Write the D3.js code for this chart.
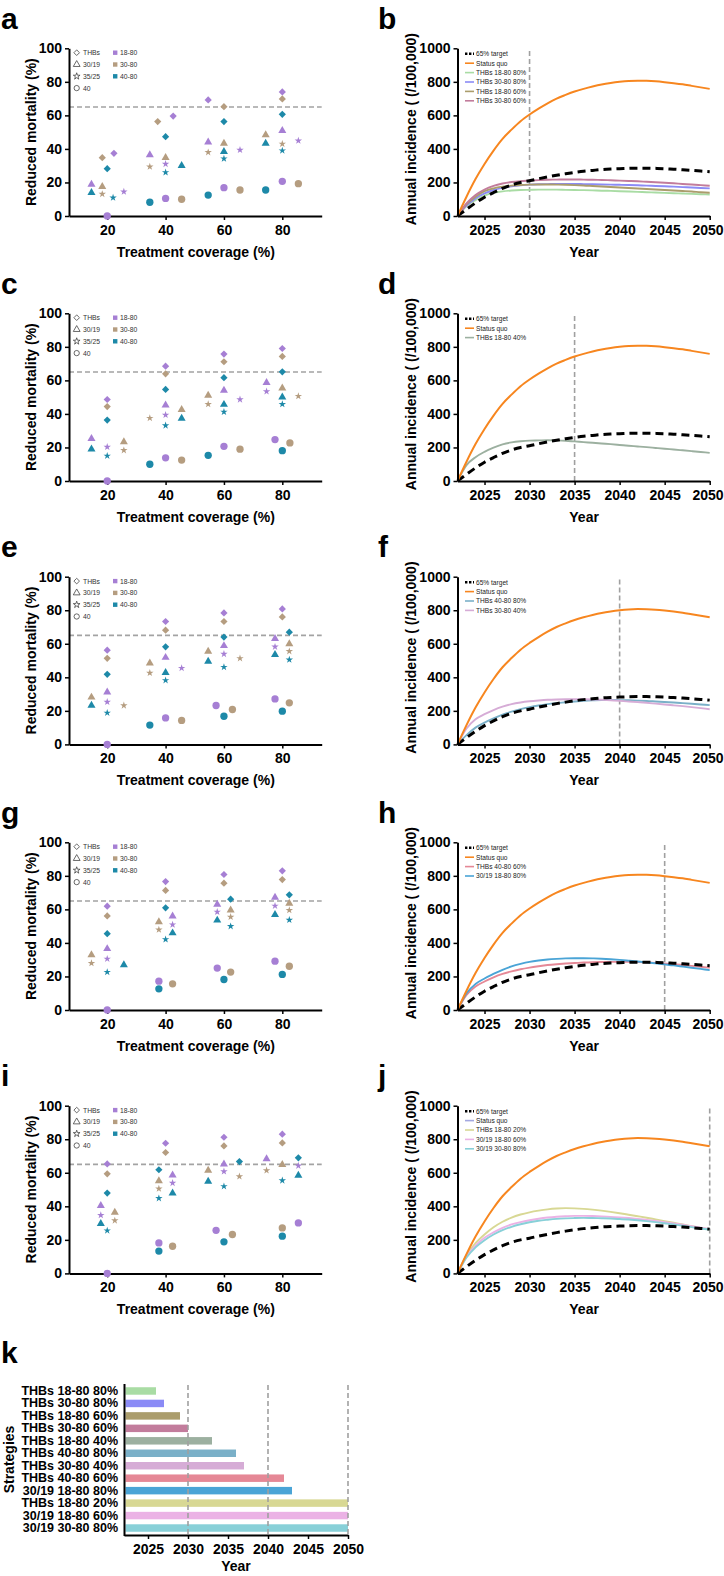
<!DOCTYPE html>
<html><head><meta charset="utf-8">
<script src="https://cdn.jsdelivr.net/npm/d3@7"></script>
<style>body{margin:0;background:#fff} svg{display:block}</style>
</head><body><svg id="c" width="724" height="1576"></svg>
<script>
// ---------------- DATA ----------------
const coverageTicks = [20, 40, 60, 80];
const mortalityTicks = [0, 20, 40, 60, 80, 100];
const incidenceTicks = [0, 200, 400, 600, 800, 1000];
const yearTicks = [2025, 2030, 2035, 2040, 2045, 2050];
const targetReduction = 65;

const shapes = ["THBs", "30/19", "35/25", "40"];
const ageGroups = ["18-80", "30-80", "40-80"];

// [screening strategy, age group, treatment coverage (display position), reduced mortality %]
const scatterA = [
  ["THBs","18-80",22.3,37.4],["THBs","30-80",18.3,34.8],["THBs","40-80",20,28.2],
  ["THBs","30-80",37.3,56.3],["THBs","18-80",42.6,59.6],["THBs","40-80",40,47.3],
  ["THBs","18-80",54.6,69.2],["THBs","30-80",60,65.2],["THBs","40-80",60,56.3],
  ["THBs","18-80",80,74],["THBs","30-80",80,69.8],["THBs","40-80",80,60.6],
  ["30/19","18-80",14.6,18.9],["30/19","40-80",14.6,13.9],["30/19","30-80",18.3,17.5],
  ["30/19","18-80",34.6,36.4],["30/19","30-80",40,34.8],["30/19","40-80",45.5,30],
  ["30/19","18-80",54.6,44],["30/19","30-80",60,43.3],["30/19","40-80",60,38.4],
  ["30/19","30-80",74.3,48.3],["30/19","40-80",74.3,43.3],["30/19","18-80",80,50.9],
  ["35/25","30-80",18.3,13.1],["35/25","40-80",22,10.9],["35/25","18-80",25.7,14.5],
  ["35/25","30-80",34.6,29.4],["35/25","18-80",40,31],["35/25","40-80",40,26],
  ["35/25","30-80",54.6,38],["35/25","40-80",60,34.2],["35/25","18-80",65.5,39.4],
  ["35/25","30-80",80,43],["35/25","40-80",80,39],["35/25","18-80",85.5,44.9],
  ["40","18-80",20,0],["40","40-80",34.6,8.2],["40","18-80",40,10.5],["40","30-80",45.5,10],
  ["40","40-80",54.6,12.5],["40","18-80",60,16.9],["40","30-80",65.5,15.5],
  ["40","40-80",74.3,15.5],["40","18-80",80,20.7],["40","30-80",85.5,19.3]
];
const scatterC = [
  ["THBs","18-80",20,48.6],["THBs","30-80",20,44.4],["THBs","40-80",20,36.3],
  ["THBs","18-80",40,68.5],["THBs","30-80",40,63.9],["THBs","40-80",40,54.6],
  ["THBs","18-80",60,75.7],["THBs","30-80",60,71.1],["THBs","40-80",60,61.6],
  ["THBs","18-80",80,79],["THBs","30-80",80,74.3],["THBs","40-80",80,65.1],
  ["30/19","18-80",14.6,25.3],["30/19","40-80",14.6,19],["30/19","30-80",25.7,23.3],
  ["30/19","18-80",40,45.2],["30/19","30-80",45.5,42.6],["30/19","40-80",45.5,37.3],
  ["30/19","30-80",54.6,51],["30/19","18-80",60,54],["30/19","40-80",60,45.6],
  ["30/19","18-80",74.6,58.6],["30/19","30-80",80,55.4],["30/19","40-80",80,50],
  ["35/25","18-80",20,20.3],["35/25","40-80",20,15],["35/25","30-80",25.7,18.3],
  ["35/25","30-80",34.6,37.5],["35/25","18-80",40,39.4],["35/25","40-80",40,33.1],
  ["35/25","30-80",54.6,45.8],["35/25","40-80",60,41.2],["35/25","18-80",65.5,48.6],
  ["35/25","18-80",74.6,53.4],["35/25","40-80",80,45.8],["35/25","30-80",85.5,50.6],
  ["40","18-80",20,0],["40","40-80",34.6,10],["40","18-80",40,13.8],["40","30-80",45.5,12.5],
  ["40","40-80",54.6,15.3],["40","18-80",60,20.7],["40","30-80",65.5,19],
  ["40","18-80",77.5,24.7],["40","40-80",80,18.1],["40","30-80",82.6,22.7]
];
const scatterE = [
  ["THBs","18-80",20,56.2],["THBs","30-80",20,51.3],["THBs","40-80",20,41.8],
  ["THBs","18-80",40,73.3],["THBs","30-80",40,68.1],["THBs","40-80",40,58.2],
  ["THBs","18-80",60,78.4],["THBs","30-80",60,73.3],["THBs","40-80",60,64],
  ["THBs","18-80",80,80.8],["THBs","30-80",80,76],["THBs","40-80",82.4,66.9],
  ["30/19","30-80",14.6,28.1],["30/19","40-80",14.6,23.2],["30/19","18-80",20,31.2],
  ["30/19","30-80",34.6,48.5],["30/19","18-80",40,51.8],["30/19","40-80",40,42.8],
  ["30/19","30-80",54.6,55.4],["30/19","40-80",54.6,49.5],["30/19","18-80",60,58.8],
  ["30/19","18-80",77.5,63],["30/19","40-80",77.5,53.5],["30/19","30-80",82.4,59.9],
  ["35/25","18-80",20,25.3],["35/25","40-80",20,18.8],["35/25","30-80",25.7,23.2],
  ["35/25","30-80",34.6,42.6],["35/25","40-80",40,38.2],["35/25","18-80",45.5,45.5],
  ["35/25","18-80",60,53.9],["35/25","40-80",60,46.1],["35/25","30-80",65.5,51.3],
  ["35/25","18-80",77.5,58.2],["35/25","30-80",82.4,55.5],["35/25","40-80",82.4,50.5],
  ["40","18-80",20,0],["40","40-80",34.6,11.5],["40","18-80",40,15.8],["40","30-80",45.5,14.3],
  ["40","18-80",57.3,23.2],["40","40-80",60,16.8],["40","30-80",62.9,20.8],
  ["40","18-80",77.5,27.1],["40","40-80",80,19.8],["40","30-80",82.4,24.8]
];
const scatterG = [
  ["THBs","18-80",20,61.9],["THBs","30-80",20,56.1],["THBs","40-80",20,45.5],
  ["THBs","18-80",40,76.6],["THBs","30-80",40,71.3],["THBs","40-80",40,60.9],
  ["THBs","18-80",60,80.8],["THBs","30-80",60,75.6],["THBs","40-80",62.3,66.1],
  ["THBs","18-80",80,83],["THBs","30-80",80,77.8],["THBs","40-80",82.4,68.7],
  ["30/19","30-80",14.6,32.9],["30/19","18-80",20,36.5],["30/19","40-80",25.7,26.9],
  ["30/19","30-80",37.7,52.5],["30/19","18-80",42.4,55.9],["30/19","40-80",42.4,45.9],
  ["30/19","18-80",57.7,62.9],["30/19","40-80",57.7,53.5],["30/19","30-80",62.3,59.5],
  ["30/19","18-80",77.5,67.1],["30/19","40-80",77.5,56.9],["30/19","30-80",82.4,63.5],
  ["35/25","30-80",14.6,27.9],["35/25","18-80",20,30.5],["35/25","40-80",20,22.6],
  ["35/25","30-80",37.7,47.9],["35/25","40-80",40,42.1],["35/25","18-80",42.4,50.9],
  ["35/25","18-80",57.7,58.5],["35/25","30-80",62.3,55.5],["35/25","40-80",62.3,49.9],
  ["35/25","18-80",77.5,62.1],["35/25","30-80",82.4,59.5],["35/25","40-80",82.4,53.7],
  ["40","18-80",20,0],["40","18-80",37.7,17.2],["40","40-80",37.7,12.6],["40","30-80",42.4,15.6],
  ["40","18-80",57.7,25],["40","40-80",60,18.2],["40","30-80",62.3,22.6],
  ["40","18-80",77.5,29.1],["40","40-80",80,21.2],["40","30-80",82.4,26.1]
];
const scatterI = [
  ["THBs","18-80",20,65.3],["THBs","30-80",20,59.4],["THBs","40-80",20,47.9],
  ["THBs","18-80",40,77.6],["THBs","30-80",40,72.1],["THBs","40-80",37.7,61.8],
  ["THBs","18-80",60,81.2],["THBs","30-80",60,76],["THBs","40-80",65.3,66.7],
  ["THBs","18-80",80,83],["THBs","30-80",80,77.8],["THBs","40-80",85.5,68.9],
  ["30/19","18-80",17.8,40.4],["30/19","40-80",17.8,29.7],["30/19","30-80",22.6,36.4],
  ["30/19","30-80",37.7,55.2],["30/19","18-80",42.4,58.6],["30/19","40-80",42.4,47.9],
  ["30/19","30-80",54.6,61.4],["30/19","40-80",54.6,54.9],["30/19","18-80",60,65.1],
  ["30/19","18-80",74.6,68.3],["30/19","30-80",80,64.8],["30/19","40-80",85.5,58.4],
  ["35/25","18-80",17.8,34.7],["35/25","40-80",20,25.5],["35/25","30-80",22.6,31.5],
  ["35/25","30-80",37.7,50.5],["35/25","40-80",37.7,44.8],["35/25","18-80",42.4,53.9],
  ["35/25","18-80",60,60.8],["35/25","40-80",60,51.9],["35/25","30-80",65.3,57.8],
  ["35/25","30-80",74.6,61.4],["35/25","40-80",80,55.4],["35/25","18-80",85.5,64.2],
  ["40","18-80",20,0],["40","18-80",37.7,18.2],["40","40-80",37.7,13.3],["40","30-80",42.4,16.2],
  ["40","18-80",57.3,25.7],["40","40-80",60,18.8],["40","30-80",62.9,23.2],
  ["40","30-80",80,27.1],["40","40-80",80,22.2],["40","18-80",85.5,30.1]
];

// Annual incidence (/100,000)
const years = [2022,2023,2024,2025,2026,2027,2028,2029,2030,2031,2032,2033,2034,2035,2036,2037,2038,2039,2040,2041,2042,2043,2044,2045,2046,2047,2048,2049,2050];
const statusQuo = [0,115,220,310,390,460,515,565,605,640,672,700,722,742,758,772,784,793,800,805,807,806,803,798,792,785,776,767,758];
const target65 = [0,40,78,112,140,165,185,200,210,222,233,243,252,260,267,272,277,280,282,284,285,285,284,282,279,276,272,268,264];
const thbs1880_80 = [0,60,95,122,138,147,152,155,156,157,157,157,156,155,154,153,151,150,148,146,144,142,140,138,136,134,132,130,128];
const thbs3080_80 = [0,62,105,135,155,168,177,183,187,189,190,191,191,191,190,189,188,187,186,185,183,181,179,177,175,172,170,167,165];
const thbs1880_60 = [0,70,115,148,165,175,181,185,187,188,188,187,186,184,182,179,176,173,170,167,164,161,158,155,152,149,146,142,139];
const thbs3080_60 = [0,75,125,158,180,194,203,208,211,214,216,217,218,218,217,216,215,213,211,209,207,204,201,198,195,191,188,184,180];
const thbs1880_40 = [0,95,142,174,199,218,230,237,241,242,243,242,240,236,232,228,224,220,215,210,206,202,197,192,188,183,178,173,168];
const thbs4080_80 = [0,55,100,130,155,177,195,210,222,232,240,246,251,256,260,263,265,265,264,263,261,259,256,253,250,246,242,238,234];
const thbs3080_40 = [0,95,150,180,205,225,240,250,257,262,266,268,269,269,269,268,266,263,260,256,252,248,243,238,233,228,222,216,210];
const thbs4080_60 = [0,90,140,170,195,215,230,243,253,261,268,273,277,280,283,285,286,287,287,287,286,284,281,277,273,268,263,258,252];
const s3019_1880_80 = [0,100,155,188,215,240,260,275,287,295,301,305,308,309,309,308,306,303,299,294,289,284,278,272,266,259,252,245,238];
const thbs1880_20 = [0,110,180,232,275,308,333,351,364,374,382,387,389,388,385,380,374,367,359,350,341,332,322,312,302,292,281,271,262];
const s3019_1880_60 = [0,100,165,212,245,272,292,306,317,326,333,338,341,343,343,342,340,337,334,330,325,319,313,306,298,290,281,272,263];
const s3019_3080_80 = [0,95,155,198,232,258,278,293,305,314,320,325,328,330,331,330,329,327,324,321,317,312,306,299,292,284,276,268,262];

const strategySeries = {
  "THBs 18-80 80%": thbs1880_80, "THBs 30-80 80%": thbs3080_80, "THBs 18-80 60%": thbs1880_60,
  "THBs 30-80 60%": thbs3080_60, "THBs 18-80 40%": thbs1880_40, "THBs 40-80 80%": thbs4080_80,
  "THBs 30-80 40%": thbs3080_40, "THBs 40-80 60%": thbs4080_60, "30/19 18-80 80%": s3019_1880_80,
  "THBs 18-80 20%": thbs1880_20, "30/19 18-80 60%": s3019_1880_60, "30/19 30-80 80%": s3019_3080_80
};
const panelBStrategies = ["THBs 18-80 80%","THBs 30-80 80%","THBs 18-80 60%","THBs 30-80 60%"];
const panelDStrategies = ["THBs 18-80 40%"];
const panelFStrategies = ["THBs 40-80 80%","THBs 30-80 40%"];
const panelHStrategies = ["THBs 40-80 60%","30/19 18-80 80%"];
const panelJStrategies = ["THBs 18-80 20%","30/19 18-80 60%","30/19 30-80 80%"];
const milestoneYears = [2030, 2035, 2040, 2045, 2050];

// panel k: year when target reached
const barStrategies = ["THBs 18-80 80%","THBs 30-80 80%","THBs 18-80 60%","THBs 30-80 60%","THBs 18-80 40%","THBs 40-80 80%","THBs 30-80 40%","THBs 40-80 60%","30/19 18-80 80%","THBs 18-80 20%","30/19 18-80 60%","30/19 30-80 80%"];
const reachYear = [2026, 2027, 2029, 2030, 2033, 2036, 2037, 2042, 2043, 2050, 2050, 2050];
const gridYears = [2030, 2040, 2050];

// ---------------- STYLE / LAYOUT ----------------
const FONT = '"Liberation Sans", Arial, Helvetica, sans-serif';
const groupColor = {"18-80":"#a67fd4","30-80":"#b59d80","40-80":"#1d89a8"};
const strategyColor = {
  "THBs 18-80 80%":"#a9dca4","THBs 30-80 80%":"#8b8bf6","THBs 18-80 60%":"#ab9d6c",
  "THBs 30-80 60%":"#c27c9c","THBs 18-80 40%":"#9cb0a0","THBs 40-80 80%":"#7ab0c8",
  "THBs 30-80 40%":"#d6acd6","THBs 40-80 60%":"#e58896","30/19 18-80 80%":"#4aa4d6",
  "THBs 18-80 20%":"#d8d894","30/19 18-80 60%":"#ebb2e5","30/19 30-80 80%":"#88d0d8"
};
const orange = "#f7861f";
const rowTops = [48.3, 313.3, 576.7, 842.3, 1105.7];
const plotH = 167.7;
const LX = [69, 321.7], RX = [457.5, 709.7];

const svg = d3.select("#c");
svg.append("rect").attr("width",724).attr("height",1576).attr("fill","#fff");

function styleAxis(g, fs){
  g.select(".domain").attr("stroke","#000").attr("stroke-width",2);
  g.selectAll(".tick line").attr("stroke","#000").attr("stroke-width",1.5);
  g.selectAll(".tick text").attr("font-family",FONT).attr("font-size",fs||14)
    .attr("font-weight","bold").attr("fill","#000");
}
function label(x, y, t, opts){
  const o = Object.assign({size:14, weight:"bold", anchor:"start", rotate:false}, opts||{});
  const el = svg.append("text").attr("font-family",FONT).attr("font-size",o.size)
    .attr("font-weight",o.weight).attr("text-anchor",o.anchor).attr("fill",o.fill||"#000").text(t);
  if (o.rotate) el.attr("transform",`translate(${x},${y}) rotate(-90)`);
  else el.attr("x",x).attr("y",y);
  return el;
}

const symbolPath = {
  "THBs": "M0,-3.6L3.6,0L0,3.6L-3.6,0Z",
  "30/19": d3.symbol(d3.symbolTriangle, 28)(),
  "35/25": d3.symbol(d3.symbolStar, 17)(),
  "40": d3.symbol(d3.symbolCircle, 42)()
};
const legendSymbolPath = {
  "THBs": "M0,-2.8L2.8,0L0,2.8L-2.8,0Z",
  "30/19": d3.symbol(d3.symbolTriangle, 20)(),
  "35/25": d3.symbol(d3.symbolStar, 14)(),
  "40": d3.symbol(d3.symbolCircle, 22)()
};

// ---------------- SCATTER PANELS ----------------
function scatterPanel(row, letter, data){
  const top = rowTops[row], bottom = top + plotH;
  const x = d3.scaleLinear().domain([6.9, 93.5]).range(LX);
  const y = d3.scaleLinear().domain([0, 100]).range([bottom, top]);
  label(1, top - 19.5, letter, {size:30});
  const g = svg.append("g");
  g.append("line").attr("x1",LX[0]).attr("x2",LX[1]).attr("y1",y(targetReduction)).attr("y2",y(targetReduction))
    .attr("stroke","#a3a3a3").attr("stroke-width",1.6).attr("stroke-dasharray","5,3");
  g.append("g").attr("transform",`translate(0,${bottom})`)
    .call(d3.axisBottom(x).tickValues(coverageTicks).tickSize(4).tickPadding(5).tickSizeOuter(0))
    .call(styleAxis);
  g.append("g").attr("transform",`translate(${LX[0]},0)`)
    .call(d3.axisLeft(y).tickValues(mortalityTicks).tickSize(4).tickPadding(3).tickSizeOuter(0))
    .call(styleAxis);
  g.selectAll("path.pt").data(data).join("path").attr("class","pt")
    .attr("transform", d => `translate(${x(d[2])},${y(d[3])})`)
    .attr("d", d => symbolPath[d[0]]).attr("fill", d => groupColor[d[1]]);
  // legend
  const lg = g.append("g");
  shapes.forEach((s, i) => {
    const yy = top + 4.4 + i * 11.8;
    lg.append("path").attr("transform",`translate(76.7,${yy})`).attr("d", legendSymbolPath[s])
      .attr("fill","none").attr("stroke","#444").attr("stroke-width",0.8);
    label(83, yy + 2.4, s, {size:6.8, weight:"normal", fill:"#333"});
  });
  ageGroups.forEach((a, i) => {
    const yy = top + 4.4 + i * 11.8;
    lg.append("rect").attr("x",113).attr("y",yy-2.2).attr("width",4.4).attr("height",4.4).attr("fill",groupColor[a]);
    label(120, yy + 2.4, a, {size:6.8, weight:"normal", fill:"#333"});
  });
  label(35.5, (top + bottom) / 2, "Reduced mortality (%)", {anchor:"middle", rotate:true});
  label((LX[0] + LX[1]) / 2 + 0.5, bottom + 41, "Treatment coverage (%)", {anchor:"middle"});
}

// keep the last year label inside the page edge
function pullLastLabel(g){
  g.selectAll(".tick text").filter(d => d === 2050).attr("dx", -2.2);
}

// ---------------- LINE PANELS ----------------
function linePanel(row, letter, strategies, vYear, sqSwatch){
  const top = rowTops[row], bottom = top + plotH;
  const x = d3.scaleLinear().domain([2022, 2050]).range(RX);
  const y = d3.scaleLinear().domain([0, 1000]).range([bottom, top]);
  label(378, top - 19.5, letter, {size:30});
  const g = svg.append("g");
  g.append("line").attr("x1",x(vYear)).attr("x2",x(vYear)).attr("y1",y(0)).attr("y2",y(1000))
    .attr("stroke","#a0a0a0").attr("stroke-width",1.6).attr("stroke-dasharray","5,3");
  const line = d3.line().x((d, i) => x(years[i])).y(d => y(d)).curve(d3.curveMonotoneX);
  strategies.forEach(s => {
    g.append("path").attr("d", line(strategySeries[s])).attr("fill","none")
      .attr("stroke", strategyColor[s]).attr("stroke-width",1.9);
  });
  g.append("path").attr("d", line(target65)).attr("fill","none").attr("stroke","#000")
    .attr("stroke-width",3).attr("stroke-dasharray","8,5");
  g.append("path").attr("d", line(statusQuo)).attr("fill","none").attr("stroke",orange).attr("stroke-width",2);
  g.append("g").attr("transform",`translate(0,${bottom})`)
    .call(d3.axisBottom(x).tickValues(yearTicks).tickFormat(d3.format("d")).tickSize(4).tickPadding(5).tickSizeOuter(0))
    .call(styleAxis).call(pullLastLabel);
  g.append("g").attr("transform",`translate(${RX[0]},0)`)
    .call(d3.axisLeft(y).tickValues(incidenceTicks).tickFormat(d3.format("d")).tickSize(4).tickPadding(3).tickSizeOuter(0))
    .call(styleAxis);
  // legend
  const entries = [{l:"65% target", c:"#000", dash:true}, {l:"Status quo", c:sqSwatch}]
    .concat(strategies.map(s => ({l:s, c:strategyColor[s]})));
  entries.forEach((e, i) => {
    const yy = top + 5.5 + i * 9.4;
    const ln = g.append("line").attr("x1",465).attr("x2",474).attr("y1",yy).attr("y2",yy).attr("stroke",e.c);
    if (e.dash) ln.attr("stroke-width",2.6).attr("stroke-dasharray","2.4,1.6");
    else ln.attr("stroke-width",1.6);
    label(476, yy + 2.3, e.l, {size:6.6, weight:"normal", fill:"#222"});
  });
  label(416, (top + bottom) / 2 - 3, "Annual incidence ( (/100,000)", {anchor:"middle", rotate:true});
  label((RX[0] + RX[1]) / 2 + 0.5, bottom + 40.5, "Year", {anchor:"middle"});
}

scatterPanel(0, "a", scatterA);
scatterPanel(1, "c", scatterC);
scatterPanel(2, "e", scatterE);
scatterPanel(3, "g", scatterG);
scatterPanel(4, "i", scatterI);
linePanel(0, "b", panelBStrategies, milestoneYears[0], orange);
linePanel(1, "d", panelDStrategies, milestoneYears[1], orange);
linePanel(2, "f", panelFStrategies, milestoneYears[2], orange);
linePanel(3, "h", panelHStrategies, milestoneYears[3], orange);
linePanel(4, "j", panelJStrategies, milestoneYears[4], "#a3a8e0");

// ---------------- BAR PANEL k ----------------
(function(){
  const x = d3.scaleLinear().domain([2022, 2050]).range([124, 348]);
  const y = d3.scaleBand().domain(barStrategies).range([1383.5, 1535.5]).paddingInner(0.4).paddingOuter(0.3);
  label(1, 1363, "k", {size:30});
  const g = svg.append("g");
  g.selectAll("rect.bar").data(barStrategies).join("rect").attr("class","bar")
    .attr("x", x(2022) + 1.5).attr("y", d => y(d))
    .attr("width", (d, i) => x(reachYear[i]) - x(2022) - 1.5).attr("height", y.bandwidth())
    .attr("fill", d => strategyColor[d]);
  gridYears.forEach(yr => {
    g.append("line").attr("x1",x(yr)).attr("x2",x(yr)).attr("y1",1385).attr("y2",1535)
      .attr("stroke","#a0a0a0").attr("stroke-width",1.6).attr("stroke-dasharray","5,3");
  });
  g.append("g").attr("transform","translate(0,1535)")
    .call(d3.axisBottom(x).tickValues(yearTicks).tickFormat(d3.format("d")).tickSize(4).tickPadding(5).tickSizeOuter(0))
    .call(styleAxis);
  g.append("g").attr("transform",`translate(${x(2022)},0)`)
    .call(d3.axisLeft(y).tickSize(0).tickPadding(6))
    .call(gg => styleAxis(gg, 12.5));
  label(14, 1459.5, "Strategies", {anchor:"middle", rotate:true});
  label(236, 1571, "Year", {anchor:"middle"});
})();
</script></body></html>
